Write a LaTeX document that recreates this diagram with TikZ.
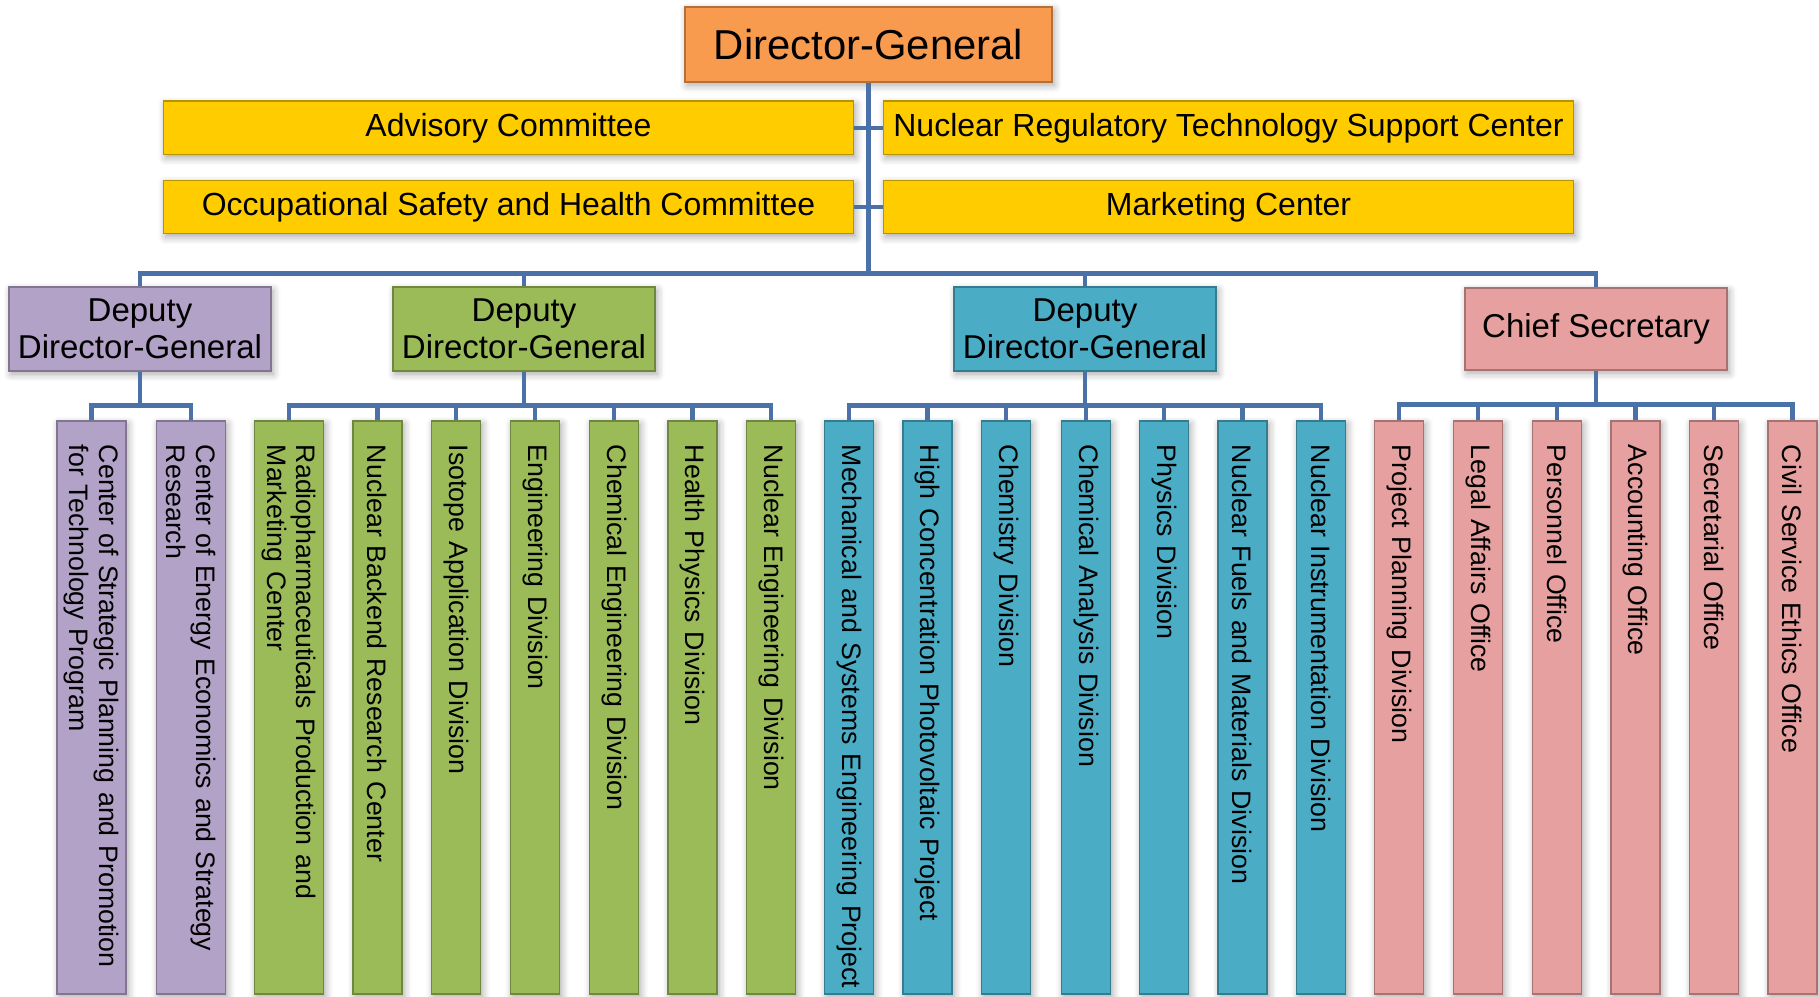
\documentclass[tikz,border=0pt]{standalone}
\usepackage{fontspec}
\setmainfont{Liberation Sans}
\usetikzlibrary{shadows.blur}

\definecolor{dgorange}{HTML}{F99B4F}
\definecolor{gold}{HTML}{FFCC00}
\definecolor{lilac}{HTML}{B3A2C7}
\definecolor{leaf}{HTML}{9BBB59}
\definecolor{aqua}{HTML}{4BACC6}
\definecolor{rose}{HTML}{E6A09F}
\definecolor{linkblue}{HTML}{4A72A8}

\begin{document}
\begin{tikzpicture}[
  box/.style={
    rectangle, draw=#1!72!black, fill=#1, line width=0.5pt,
    blur shadow={shadow xshift=0.6pt, shadow yshift=-0.9pt,
                 shadow opacity=35, shadow blur steps=6}},
  boss/.style={
    box=dgorange, minimum width=3.67cm, minimum height=0.75cm,
    font=\fontsize{11.9pt}{13pt}\selectfont},
  staff/.style={
    box=gold, minimum width=6.9cm, minimum height=0.5cm,
    inner xsep=1pt, font=\fontsize{9.1pt}{11pt}\selectfont},
  deputy/.style={
    box=#1, minimum width=2.62cm, minimum height=0.82cm,
    inner xsep=2pt, align=center,
    font=\fontsize{9.4pt}{10.6pt}\selectfont},
  unit/.style={
    box=#1, rotate=-90, anchor=west,
    minimum width=5.73cm, minimum height=0.49cm,
    text width=5.69cm, inner xsep=0.02cm, inner ysep=0pt, align=left,
    execute at begin node={\leftskip=0.22cm\hyphenpenalty=10000},
    font=\fontsize{7.6pt}{8.4pt}\selectfont},
  wide/.style={minimum height=0.69cm},
  conn/.style={draw=linkblue, line width=1.4pt},
]
\useasboundingbox (0,0) rectangle (18.19,-9.96);

%% ---- Top ----
\node[boss]  (dg)    at (8.685,-0.445) {Director-General};

\node[staff] (adv)   at (5.085, -1.28) {Advisory Committee};
\node[staff] (nrtsc) at (12.285,-1.28) {Nuclear Regulatory Technology Support Center};
\node[staff] (osh)   at (5.085, -2.07) {Occupational Safety and Health Committee};
\node[staff] (mkt)   at (12.285,-2.07) {Marketing Center};

%% ---- Deputies ----
\node[deputy=lilac] (ddgL)  at (1.40, -3.29) {Deputy\\Director-General};
\node[deputy=leaf]  (ddgM)  at (5.24, -3.29) {Deputy\\Director-General};
\node[deputy=aqua]  (ddgR)  at (10.85,-3.29) {Deputy\\Director-General};
\node[deputy=rose]  (chief) at (15.96,-3.29) {Chief Secretary};

%% ---- Units (rotated, hung from the top edge) ----
\node[unit=lilac, wide] (cspp)  at (0.915,-4.20) {Center of Strategic Planning and Promotion\\for Technology Program};
\node[unit=lilac, wide] (ceesr) at (1.91, -4.20) {Center of Energy Economics and Strategy\\Research};

\node[unit=leaf, wide] (rpmc) at (2.89, -4.20) {Radiopharmaceuticals Production and\\Marketing Center};
\node[unit=leaf]       (nbrc) at (3.775,-4.20) {Nuclear Backend Research Center};
\node[unit=leaf]       (iad)  at (4.56, -4.20) {Isotope Application Division};
\node[unit=leaf]       (eng)  at (5.35, -4.20) {Engineering Division};
\node[unit=leaf]       (ced)  at (6.14, -4.20) {Chemical Engineering Division};
\node[unit=leaf]       (hpd)  at (6.925,-4.20) {Health Physics Division};
\node[unit=leaf]       (ned)  at (7.71, -4.20) {Nuclear Engineering Division};

\node[unit=aqua] (msep) at (8.49, -4.20) {Mechanical and Systems Engineering Project};
\node[unit=aqua] (hcpv) at (9.275,-4.20) {High Concentration Photovoltaic Project};
\node[unit=aqua] (chem) at (10.06,-4.20) {Chemistry Division};
\node[unit=aqua] (cad)  at (10.86,-4.20) {Chemical Analysis Division};
\node[unit=aqua] (phys) at (11.64,-4.20) {Physics Division};
\node[unit=aqua] (nfmd) at (12.425,-4.20) {Nuclear Fuels and Materials Division};
\node[unit=aqua] (nid)  at (13.21,-4.20) {Nuclear Instrumentation Division};

\node[unit=rose] (ppd)  at (13.99, -4.20) {Project Planning Division};
\node[unit=rose] (lao)  at (14.78, -4.20) {Legal Affairs Office};
\node[unit=rose] (pers) at (15.57, -4.20) {Personnel Office};
\node[unit=rose] (acct) at (16.355,-4.20) {Accounting Office};
\node[unit=rose] (secr) at (17.14, -4.20) {Secretarial Office};
\node[unit=rose] (csee) at (17.925,-4.20) {Civil Service Ethics Office};

%% ---- Top connectors ----
\draw[conn] (adv.east) -- (nrtsc.west);
\draw[conn] (osh.east) -- (mkt.west);
\draw[conn] (dg.south) -- ++(0,-1.91) -| (ddgL.north);
\draw[conn] (dg.south) -- ++(0,-1.91) -| (ddgM.north);
\draw[conn] (dg.south) -- ++(0,-1.91) -| (ddgR.north);
\draw[conn] (dg.south) -- ++(0,-1.91) -| (chief.north);

%% ---- Unit connectors ----
\draw[conn] (ddgL.south) -- ++(0,-0.34) -| (cspp.west)
            (ddgL.south) -- ++(0,-0.34) -| (ceesr.west);

\draw[conn] (ddgM.south) -- ++(0,-0.34) -| (rpmc.west)
            (ddgM.south) -- ++(0,-0.34) -| (nbrc.west)
            (ddgM.south) -- ++(0,-0.34) -| (iad.west)
            (ddgM.south) -- ++(0,-0.34) -| (eng.west)
            (ddgM.south) -- ++(0,-0.34) -| (ced.west)
            (ddgM.south) -- ++(0,-0.34) -| (hpd.west)
            (ddgM.south) -- ++(0,-0.34) -| (ned.west);

\draw[conn] (ddgR.south) -- ++(0,-0.34) -| (msep.west)
            (ddgR.south) -- ++(0,-0.34) -| (hcpv.west)
            (ddgR.south) -- ++(0,-0.34) -| (chem.west)
            (ddgR.south) -- ++(0,-0.34) -| (cad.west)
            (ddgR.south) -- ++(0,-0.34) -| (phys.west)
            (ddgR.south) -- ++(0,-0.34) -| (nfmd.west)
            (ddgR.south) -- ++(0,-0.34) -| (nid.west);

\draw[conn] (chief.south) -- ++(0,-0.34) -| (ppd.west)
            (chief.south) -- ++(0,-0.34) -| (lao.west)
            (chief.south) -- ++(0,-0.34) -| (pers.west)
            (chief.south) -- ++(0,-0.34) -| (acct.west)
            (chief.south) -- ++(0,-0.34) -| (secr.west)
            (chief.south) -- ++(0,-0.34) -| (csee.west);

\end{tikzpicture}
\end{document}
